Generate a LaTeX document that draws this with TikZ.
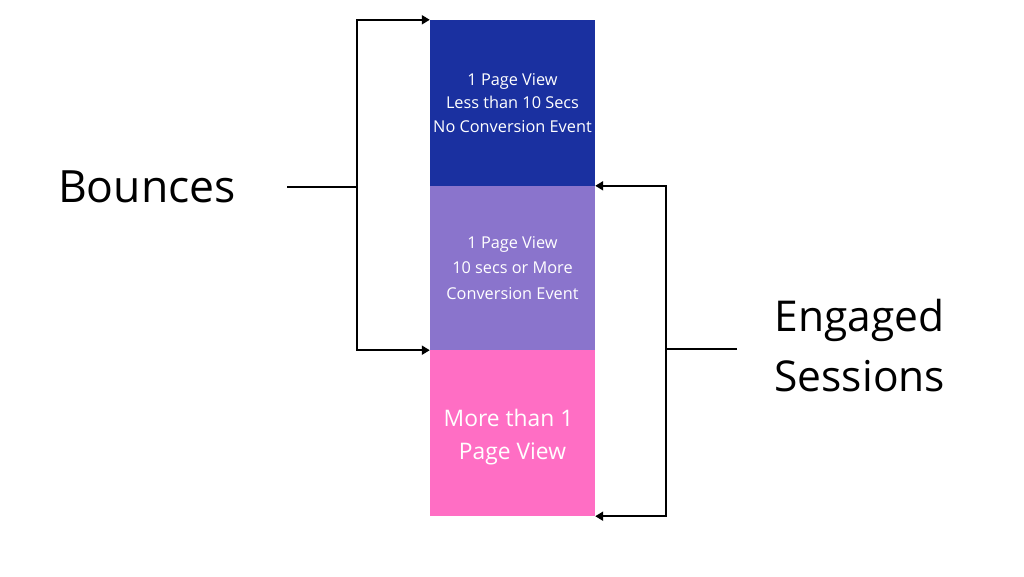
\documentclass[tikz,border=0pt]{standalone}
\usepackage{fontspec}
\setmainfont{Open Sans}
\usetikzlibrary{arrows.meta}
\definecolor{topblue}{HTML}{1A30A0}
\definecolor{midpurple}{HTML}{8A74CC}
\definecolor{botpink}{HTML}{FF6EC4}
\begin{document}
\begin{tikzpicture}[x=1pt,y=-1pt,
  block/.style={draw=none,minimum width=165pt,inner sep=0pt,align=center,text=white},
  small/.style={font=\fontsize{16.3}{23.5}\selectfont},
  big/.style={font=\fontsize{44.5}{60}\selectfont},
  conn/.style={line width=2pt,black},
  arr/.style={conn,-{Triangle[length=8pt,width=9pt]}}]
\useasboundingbox (0,0) rectangle (1024,576);
\fill[white] (0,0) rectangle (1024,576);
\node[block,fill=topblue,minimum height=166pt,small] (top) at (512.5,103) {1 Page View\\Less than 10 Secs\\No Conversion Event};
\node[block,fill=midpurple,minimum height=164pt,font=\fontsize{16.3}{25.5}\selectfont] (mid) at (512.5,268) {1 Page View\\10 secs or More\\Conversion Event};
\node[block,fill=botpink,minimum height=166pt,font=\fontsize{22.8}{33}\selectfont,
  label={[text=white,align=center,font=\fontsize{22.8}{33}\selectfont,yshift=-4pt]center:{More than 1\hspace*{8pt}\\Page View}}] (bot) at (512.5,433) {};
\node[big,anchor=center] (bounces) at (147,187) {Bounces};
\node[big,align=left,anchor=west,font=\fontsize{42.5}{60}\selectfont] (engaged) at (771,346) {Engaged\\Sessions};
\coordinate (lj) at (357,187);
\coordinate (rj) at (666,349);
\draw[conn] (287,187) -- (lj);
\draw[arr] (lj) |- (top.north west);
\draw[arr] (lj) |- (mid.south west);
\draw[conn] (737,349) -- (rj);
\draw[arr] (rj) |- (mid.north east);
\draw[arr] (rj) |- (bot.south east);
\end{tikzpicture}
\end{document}
